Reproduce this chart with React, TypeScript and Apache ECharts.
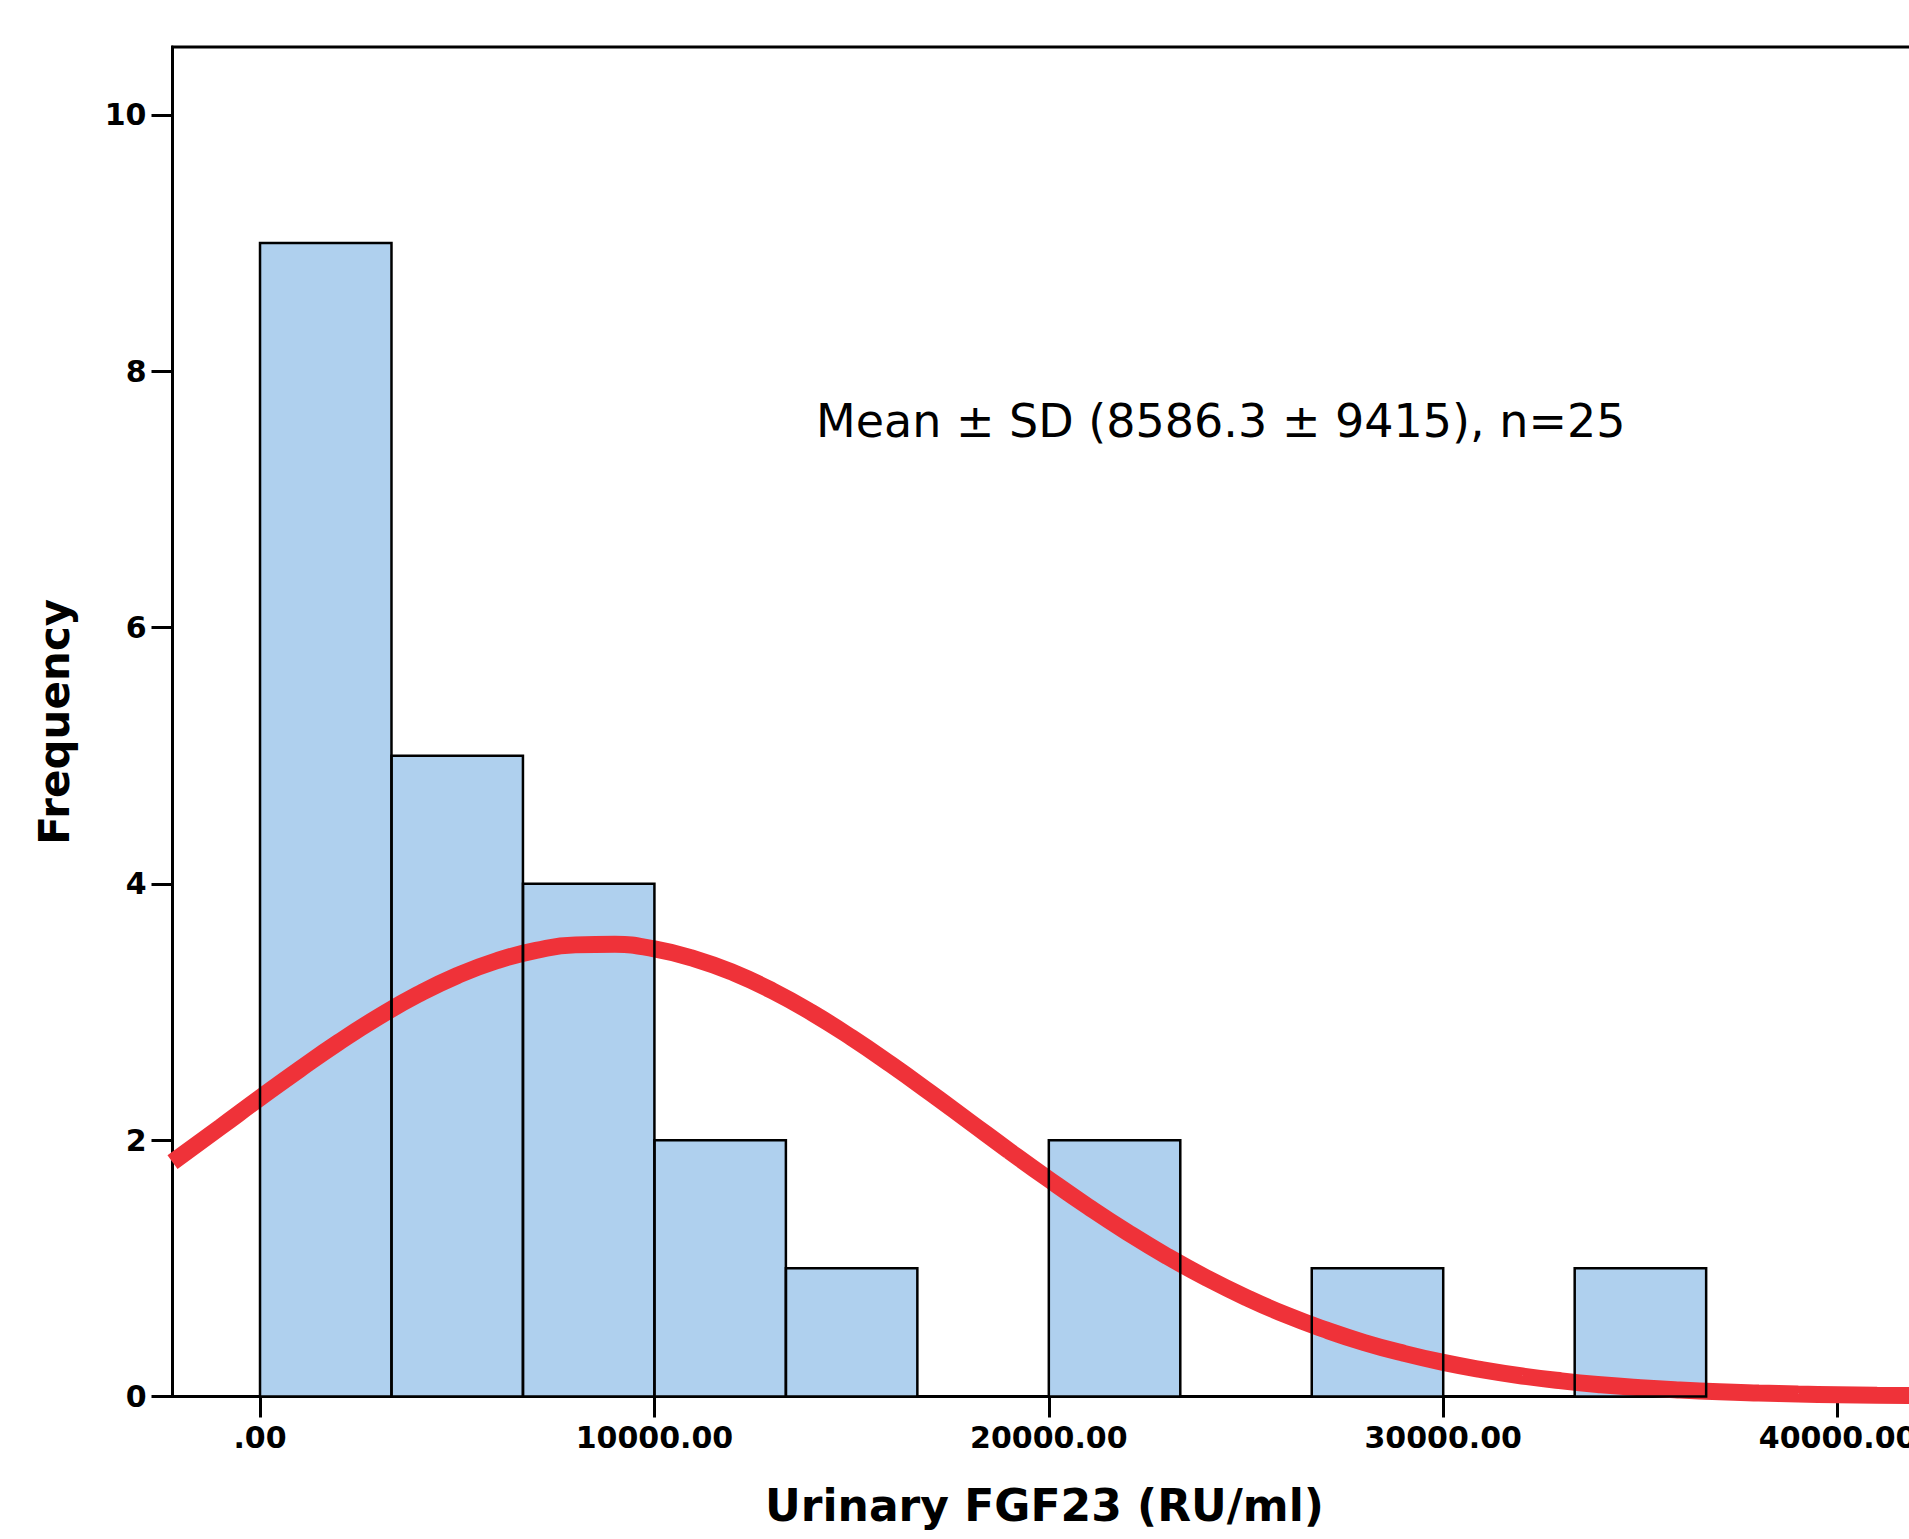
import React, { useEffect, useRef } from "react";
import * as echarts from "echarts";

// Histogram bins (Urinary FGF23, RU/ml)
const binStarts = [0, 3333.33, 6666.67, 10000, 13333.33, 16666.67, 20000, 23333.33, 26666.67, 30000, 33333.33, 36666.67];
const binEnds = [3333.33, 6666.67, 10000, 13333.33, 16666.67, 20000, 23333.33, 26666.67, 30000, 33333.33, 36666.67, 40000];
const counts = [9, 5, 4, 2, 1, 0, 2, 0, 1, 0, 1, 0];

// Normal curve (x, frequency)
const curveX = [
  -2219, -1000, 0, 1000, 2000, 3000, 4000, 5000, 6000, 7000, 8000, 9000, 10000, 11000, 12000, 13000, 14000,
  15000, 16000, 17000, 18000, 19000, 20000, 21000, 22000, 23000, 24000, 25000, 26000, 27000, 28000, 29000,
  30000, 31000, 32000, 33000, 34000, 35000, 36000, 37000, 38000, 39000, 40000, 41000, 42000,
];
const curveY = [
  1.828, 2.103, 2.33, 2.552, 2.765, 2.961, 3.136, 3.284, 3.4, 3.481, 3.524, 3.528, 3.492, 3.417, 3.307, 3.164, 2.993,
  2.8, 2.59, 2.369, 2.142, 1.915, 1.694, 1.481, 1.28, 1.094, 0.925, 0.773, 0.638, 0.522, 0.421, 0.337,
  0.266, 0.208, 0.16, 0.122, 0.092, 0.069, 0.051, 0.037, 0.027, 0.019, 0.014, 0.009, 0.007,
];

// Axis ticks
const xTickValues = [0, 10000, 20000, 30000, 40000];
const xTickLabels = [".00", "10000.00", "20000.00", "30000.00", "40000.00"];
const yTickValues = [0, 2, 4, 6, 8, 10];
const yTickLabels = ["0", "2", "4", "6", "8", "10"];

const X_MIN = -2219;
const X_MAX = 42000;
const Y_MAX = 10.53;

const annotation = "Mean \u00b1 SD (8586.3 \u00b1 9415), n=25";
const xTitle = "Urinary FGF23 (RU/ml)";
const yTitle = "Frequency";

const FONT = "DejaVu Sans";

export default function App() {
  const ref = useRef<HTMLDivElement>(null);

  useEffect(() => {
    if (!ref.current) return;
    const chart = echarts.init(ref.current, null, { renderer: "svg" });

    const barData = binStarts
      .map((s, i) => [s, binEnds[i], counts[i]])
      .filter((d) => d[2] > 0);
    const curveData = curveX.map((x, i) => [x, curveY[i]]);

    const rectItem = (fill: string, stroke: string, lw: number) => (params: any, api: any) => {
      const p0 = api.coord([api.value(0), api.value(2)]);
      const p1 = api.coord([api.value(1), 0]);
      return {
        type: "rect",
        shape: { x: p0[0], y: p0[1], width: p1[0] - p0[0], height: p1[1] - p0[1] },
        style: { fill, stroke, lineWidth: lw },
      };
    };

    const tickFont = { fontFamily: FONT, fontWeight: "bold" as const, fontSize: 30, color: "#000" };

    chart.setOption({
      animation: false,
      backgroundColor: "#fff",
      grid: {
        left: 172.5,
        top: 47,
        right: -7.5,
        bottom: 142.5,
        show: true,
        borderColor: "#000",
        borderWidth: 3,
        backgroundColor: "transparent",
        containLabel: false,
        outerBoundsMode: "none",
      },
      xAxis: {
        type: "value",
        min: X_MIN,
        max: X_MAX,
        name: xTitle,
        nameLocation: "middle",
        nameGap: 87,
        nameTextStyle: { fontFamily: FONT, fontWeight: "bold", fontSize: 44, color: "#000" },
        splitLine: { show: false },
        axisLine: { show: true, onZero: false, lineStyle: { color: "#000", width: 3 } },
        axisTick: {
          show: true,
          inside: false,
          length: 21,
          customValues: xTickValues,
          lineStyle: { color: "#000", width: 3 },
        },
        axisLabel: {
          show: true,
          margin: 26,
          customValues: xTickValues,
          formatter: (v: number) => {
            const i = xTickValues.indexOf(v);
            return i >= 0 ? xTickLabels[i] : "";
          },
          ...tickFont,
        },
      },
      yAxis: {
        type: "value",
        min: 0,
        max: Y_MAX,
        name: yTitle,
        nameLocation: "middle",
        nameGap: 97,
        nameRotate: 90,
        nameTextStyle: { fontFamily: FONT, fontWeight: "bold", fontSize: 42, color: "#000" },
        splitLine: { show: false },
        axisLine: { show: true, onZero: false, lineStyle: { color: "#000", width: 3 } },
        axisTick: {
          show: true,
          inside: false,
          length: 21,
          customValues: yTickValues,
          lineStyle: { color: "#000", width: 3 },
        },
        axisLabel: {
          show: true,
          margin: 26,
          customValues: yTickValues,
          formatter: (v: number) => {
            const i = yTickValues.indexOf(v);
            return i >= 0 ? yTickLabels[i] : "";
          },
          ...tickFont,
        },
      },
      graphic: [
        {
          type: "text",
          left: 816,
          top: 398,
          z: 10,
          style: {
            text: annotation,
            fontFamily: FONT,
            fontSize: 46,
            fill: "#000",
          },
        },
      ],
      series: [
        {
          type: "custom",
          name: "bars",
          z: 1,
          renderItem: rectItem("#AFD0EE", "none", 0),
          encode: { x: [0, 1], y: 2 },
          data: barData,
          clip: false,
        },
        {
          type: "line",
          name: "normal",
          z: 2,
          data: curveData,
          smooth: 0.5,
          showSymbol: false,
          symbol: "none",
          clip: false,
          lineStyle: { color: "#EF3239", width: 17, cap: "butt" },
        },
        {
          type: "custom",
          name: "outlines",
          z: 3,
          renderItem: rectItem("none", "#000", 2.5),
          encode: { x: [0, 1], y: 2 },
          data: barData,
          clip: false,
        },
      ],
    });

    return () => chart.dispose();
  }, []);

  return (
    <div
      ref={ref}
      style={{ position: "fixed", left: 0, top: 0, width: 1909, height: 1539, background: "#fff", overflow: "hidden" }}
    />
  );
}
